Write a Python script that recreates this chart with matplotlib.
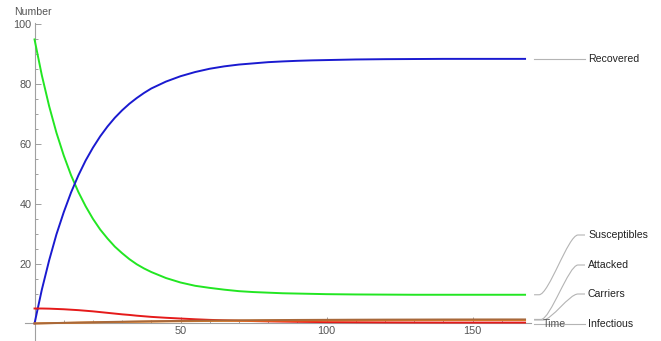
import numpy as np
import matplotlib
matplotlib.use("Agg")
import matplotlib.pyplot as plt
from matplotlib.lines import Line2D
from matplotlib.path import Path
from matplotlib.patches import PathPatch

plt.rcParams['font.family'] = ['Liberation Sans', 'DejaVu Sans']

# time grid and compartment sizes
time = [0, 2.5, 5, 7.5, 10, 12.5, 15, 17.5, 20, 22.5, 25, 27.5, 30, 32.5, 35, 37.5, 40,
        45, 50, 55, 60, 65, 70, 75, 80, 85, 90, 95, 100,
        110, 120, 130, 140, 150, 160, 168]
susceptibles = [95.0, 83.0, 72.7, 63.8, 56.2, 49.6, 44.0, 39.2, 35.0, 31.4, 28.4, 25.7, 23.5, 21.5, 19.8, 18.4, 17.2,
                15.2, 13.7, 12.6, 11.9, 11.3, 10.8, 10.5, 10.3, 10.1, 10.0, 9.9, 9.8,
                9.7, 9.65, 9.6, 9.6, 9.6, 9.6, 9.6]
recovered = [0, 11.3, 21.1, 29.8, 37.2, 43.8, 49.5, 54.5, 58.8, 62.6, 65.9, 68.8, 71.3, 73.5, 75.4, 77.1, 78.6,
             80.9, 82.7, 84.1, 85.2, 86.0, 86.6, 87.0, 87.4, 87.65, 87.85, 88.0, 88.1,
             88.3, 88.4, 88.45, 88.5, 88.5, 88.5, 88.5]
infectious = [5.0, 5.0, 4.95, 4.85, 4.75, 4.6, 4.45, 4.25, 4.05, 3.8, 3.55, 3.3, 3.05, 2.85, 2.6, 2.4, 2.2,
              1.9, 1.65, 1.4, 1.2, 1.05, 0.9, 0.8, 0.7, 0.62, 0.55, 0.5, 0.45,
              0.4, 0.35, 0.32, 0.3, 0.3, 0.3, 0.3]
carriers = [0, 0.05, 0.1, 0.14, 0.18, 0.22, 0.27, 0.31, 0.35, 0.39, 0.43, 0.47, 0.5, 0.54, 0.57, 0.6, 0.63,
            0.69, 0.74, 0.79, 0.83, 0.87, 0.9, 0.93, 0.96, 0.98, 1.0, 1.02, 1.04,
            1.07, 1.1, 1.12, 1.13, 1.14, 1.15, 1.15]
attacked = [0, 0.05, 0.1, 0.15, 0.2, 0.25, 0.3, 0.35, 0.4, 0.45, 0.5, 0.54, 0.58, 0.62, 0.66, 0.7, 0.74,
            0.8, 0.86, 0.92, 0.97, 1.01, 1.05, 1.09, 1.12, 1.15, 1.18, 1.2, 1.22,
            1.26, 1.29, 1.31, 1.33, 1.34, 1.35, 1.35]

W, H = 661, 341
fig = plt.figure(figsize=(W / 100, H / 100), dpi=100)
ax = fig.add_axes([24.9 / W, 1.1 / H, 506.0 / W, 316.9 / H])

lw = 1.4
ax.plot(time, susceptibles, color='#22e622', lw=lw, zorder=3)
ax.plot(time, recovered, color='#1a1ad0', lw=lw, zorder=3)
ax.plot(time, infectious, color='#e51a1a', lw=lw, zorder=3)
ax.plot(time, carriers, color='#f0861e', lw=lw, zorder=3)
ax.plot(time, attacked, color='#a8683a', lw=lw, zorder=3)

ax.set_xlim(-3.3, 170)
ax.set_ylim(-5.5, 100.5)

axis_grey = '#a0a0a0'
for side in ['top', 'right']:
    ax.spines[side].set_visible(False)
ax.spines['left'].set_position(('data', 0))
ax.spines['bottom'].set_position(('data', 0))
for side in ['left', 'bottom']:
    ax.spines[side].set_color(axis_grey)
    ax.spines[side].set_linewidth(0.8)

ax.set_xticks([50, 100, 150])
ax.set_xticks([v for v in range(10, 170, 10) if v % 50], minor=True)
ax.set_yticks([20, 40, 60, 80, 100])
ax.set_yticks([v for v in range(5, 100, 5) if v % 20], minor=True)
ax.tick_params(which='both', direction='in', color=axis_grey, width=0.7,
               labelsize=7.8, labelcolor='#555555', pad=2)
ax.tick_params(which='major', length=4)
ax.tick_params(which='minor', length=2.5)

fig.text(33 / W, 1 - 12 / H, 'Number', ha='center', va='center', fontsize=7.6, color='#555555')
fig.text(554 / W, 1 - 324 / H, 'Time', ha='center', va='center', fontsize=7.6, color='#555555')


def end_px(series):
    x, y = ax.transData.transform((time[-1], series[-1]))
    return x, H - y


def to_fig(p):
    return (p[0] / W, 1 - p[1] / H)


def leader(start, end, bend):
    # short straight run, a rounded diagonal, then a short run into the label
    x0, y0 = start
    x1, y1 = end
    a = (x0 + bend, y0)
    b = (x1 - 7, y1)
    k = 0.25 * (b[0] - a[0])
    verts = [start, a,
             (a[0] + k, y0), (b[0] - k, y1), b,
             end]
    codes = [Path.MOVETO, Path.LINETO,
             Path.CURVE4, Path.CURVE4, Path.CURVE4,
             Path.LINETO]
    path = Path([to_fig(v) for v in verts], codes)
    fig.add_artist(PathPatch(path, transform=fig.transFigure, fill=False,
                             edgecolor='#b4b4b4', lw=0.8))


# labels at the right end of each curve, with leader lines
labels = [
    ('Recovered', recovered, 59, 0),
    ('Susceptibles', susceptibles, 235, 0),
    ('Attacked', attacked, 265, 1),
    ('Carriers', carriers, 294, 2),
    ('Infectious', infectious, 324, 0),
]
for text, series, ty, shift in labels:
    x0, y0 = end_px(series)
    xs = x0 + 9
    if abs(ty - y0) < 3:
        fig.add_artist(Line2D([xs / W, 585 / W], [1 - ty / H, 1 - ty / H],
                              transform=fig.transFigure, color='#b4b4b4', lw=0.8))
    else:
        leader((xs, y0), (585, ty), 5 + 2 * shift)
    fig.text(588 / W, 1 - ty / H, text, ha='left', va='center', fontsize=7.6, color='#222222')

fig.savefig('out.png', dpi=100)
